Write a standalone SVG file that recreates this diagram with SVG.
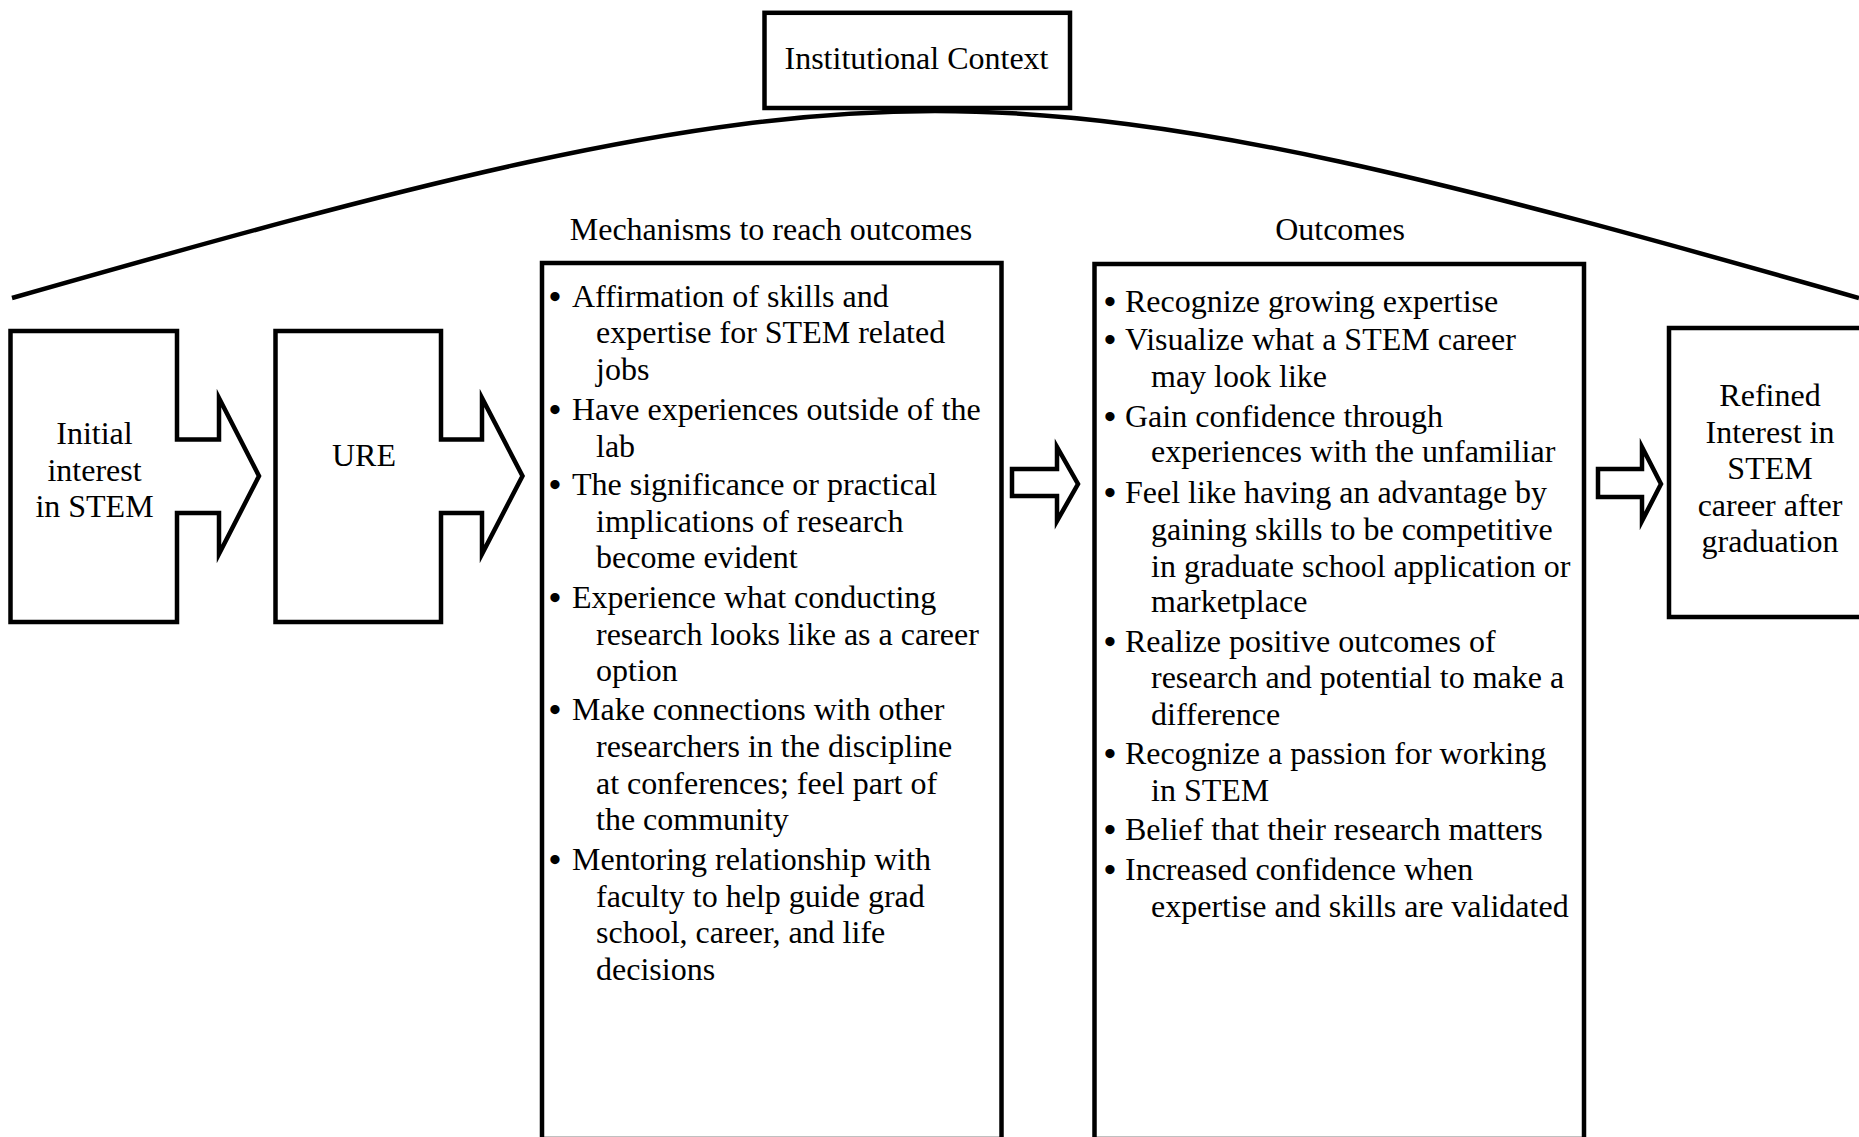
<svg xmlns="http://www.w3.org/2000/svg" width="1859" height="1137" viewBox="0 0 1859 1137">
<style>
.ln{fill:none;stroke:#000;stroke-width:4.5;stroke-linejoin:miter;stroke-miterlimit:10}
.bx{fill:#fff;stroke:#000;stroke-width:4.5;stroke-linejoin:miter;stroke-miterlimit:10}
text{font-family:"Liberation Serif","Times New Roman",serif;font-size:32px;fill:#000}
.c{text-anchor:middle}
.b{font-size:34px;font-weight:bold}
</style>
<rect width="1859" height="1137" fill="#fff"/>
<g id="context-curve">
<path class="ln" d="M12 298 C412 184 685 111 935 111 C1185 111 1458 184 1859 298"/>
</g>
<g id="institutional-context">
<rect class="bx" x="764.5" y="12.8" width="305.5" height="95.2"/>
<text class="c" x="916.5" y="69">Institutional Context</text>
</g>
<g id="initial-interest">
<path class="bx" d="M10.5 331 H177 V439.5 H219 V398 L259 476 L219 554 V513 H177 V622 H10.5 Z"/>
<text class="c" x="94.5" y="444">Initial</text>
<text class="c" x="94.5" y="480.7">interest</text>
<text class="c" x="94.5" y="517.3">in STEM</text>
</g>
<g id="ure">
<path class="bx" d="M275.5 331 H441 V439.5 H482 V398 L522.5 476 L482 554 V513 H441 V622 H275.5 Z"/>
<text class="c" x="364" y="465.7">URE</text>
</g>
<g id="mechanisms">
<text class="c" x="771" y="240">Mechanisms to reach outcomes</text>
<rect class="bx" x="542" y="263" width="459.5" height="876"/>
<text class="b" x="549" y="307.7">•</text><text x="572" y="306.7">Affirmation of skills and</text>
<text x="596" y="343.3">expertise for STEM related</text>
<text x="596" y="380">jobs</text>
<text class="b" x="549" y="421">•</text><text x="572" y="420">Have experiences outside of the</text>
<text x="596" y="456.7">lab</text>
<text class="b" x="549" y="496">•</text><text x="572" y="495">The significance or practical</text>
<text x="596" y="531.7">implications of research</text>
<text x="596" y="568.3">become evident</text>
<text class="b" x="549" y="609">•</text><text x="572" y="608">Experience what conducting</text>
<text x="596" y="644.7">research looks like as a career</text>
<text x="596" y="681.3">option</text>
<text class="b" x="549" y="721">•</text><text x="572" y="720">Make connections with other</text>
<text x="596" y="757">researchers in the discipline</text>
<text x="596" y="793.7">at conferences; feel part of</text>
<text x="596" y="830.3">the community</text>
<text class="b" x="549" y="871">•</text><text x="572" y="870">Mentoring relationship with</text>
<text x="596" y="906.7">faculty to help guide grad</text>
<text x="596" y="943.3">school, career, and life</text>
<text x="596" y="980">decisions</text>
</g>
<g id="outcomes">
<text class="c" x="1340" y="240">Outcomes</text>
<rect class="bx" x="1094.5" y="264" width="489.5" height="875"/>
<text class="b" x="1104" y="312.7">•</text><text x="1125" y="311.7">Recognize growing expertise</text>
<text class="b" x="1104" y="351">•</text><text x="1125" y="350">Visualize what a STEM career</text>
<text x="1151" y="386.7">may look like</text>
<text class="b" x="1104" y="427.7">•</text><text x="1125" y="426.7">Gain confidence through</text>
<text x="1151" y="462">experiences with the unfamiliar</text>
<text class="b" x="1104" y="504">•</text><text x="1125" y="503">Feel like having an advantage by</text>
<text x="1151" y="540">gaining skills to be competitive</text>
<text x="1151" y="576.7">in graduate school application or</text>
<text x="1151" y="612">marketplace</text>
<text class="b" x="1104" y="652.7">•</text><text x="1125" y="651.7">Realize positive outcomes of</text>
<text x="1151" y="688.3">research and potential to make a</text>
<text x="1151" y="725">difference</text>
<text class="b" x="1104" y="765">•</text><text x="1125" y="764">Recognize a passion for working</text>
<text x="1151" y="801">in STEM</text>
<text class="b" x="1104" y="841">•</text><text x="1125" y="840">Belief that their research matters</text>
<text class="b" x="1104" y="881">•</text><text x="1125" y="880">Increased confidence when</text>
<text x="1151" y="916.7">expertise and skills are validated</text>
</g>
<g id="refined-interest">
<rect class="bx" x="1669" y="328" width="210" height="289"/>
<text class="c" x="1770" y="406">Refined</text>
<text class="c" x="1770" y="442.5">Interest in</text>
<text class="c" x="1770" y="479">STEM</text>
<text class="c" x="1770" y="515.5">career after</text>
<text class="c" x="1770" y="552">graduation</text>
</g>
<g id="connectors">
<path class="bx" d="M1012 469 H1057 V447 L1078 484 L1057 521 V496 H1012 Z"/>
<path class="bx" d="M1598 469 H1642 V447 L1661 484 L1642 521 V497 H1598 Z"/>
</g>
</svg>
